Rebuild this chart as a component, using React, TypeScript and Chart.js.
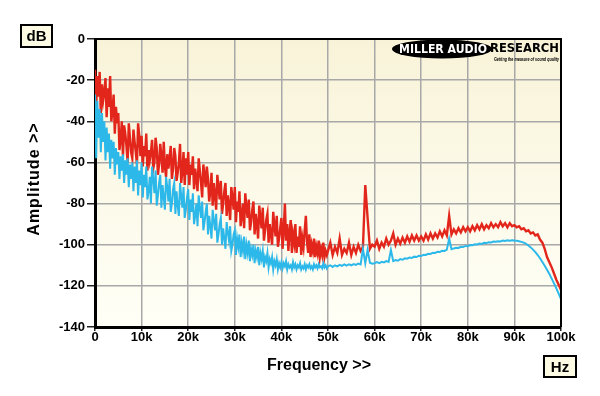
import React, { useEffect, useRef } from "react";
import { Chart, registerables } from "chart.js";

Chart.register(...registerables);

// ---------- Data (frequency in kHz, amplitude in dB) ----------
const xTickValues = [0, 10, 20, 30, 40, 50, 60, 70, 80, 90, 100];
const yTickValues = [0, -20, -40, -60, -80, -100, -120, -140];

// Red trace, 0.25 kHz bins from 0 to 50 kHz
const red0to10 = [-15, -33, -18, -28, -16, -36, -22, -30, -26, -19, -38, -24, -33, -18, -40, -35, -27, -46, -33, -41, -36, -54, -49, -40, -57, -42, -46, -52, -60, -41, -48, -55, -58, -44, -50, -55, -61, -41, -47, -57];
const red10to20 = [-47, -62, -52, -57, -46, -64, -54, -59, -55, -49, -63, -60, -48, -53, -66, -61, -51, -57, -65, -50, -62, -67, -56, -63, -58, -52, -68, -63, -53, -57, -69, -65, -60, -51, -70, -64, -55, -71, -58, -66];
const red20to30 = [-55, -71, -61, -66, -57, -73, -63, -68, -74, -58, -64, -70, -77, -61, -66, -72, -62, -68, -79, -74, -65, -81, -70, -76, -83, -66, -72, -78, -69, -85, -80, -74, -70, -86, -76, -81, -88, -72, -77, -83];
const red30to40 = [-72, -89, -79, -84, -74, -91, -86, -80, -92, -75, -82, -87, -78, -93, -89, -83, -79, -95, -85, -90, -97, -81, -87, -92, -82, -98, -93, -88, -85, -99, -90, -95, -100, -84, -91, -96, -86, -101, -97, -92];
const red40to50 = [-87, -102, -93, -80, -98, -90, -103, -94, -88, -104, -95, -99, -90, -104, -96, -101, -91, -105, -97, -101, -93, -86, -99, -104, -95, -106, -100, -103, -97, -106, -101, -104, -98, -106, -102, -105, -99, -106, -103, -105];
// Red trace, 0.5 kHz bins from 50 to 100 kHz
const red50to60 = [-103, -99, -105, -101, -104, -97, -105, -102, -104, -99, -105, -101, -104, -100, -103, -101, -71, -87, -102, -100];
const red60to70 = [-101, -98, -102, -99, -101, -97, -100, -98, -94.5, -100, -97, -99.5, -96.5, -99, -96, -98.5, -95.5, -98, -95.5, -98];
const red70to80 = [-96, -98, -95, -97.5, -94.5, -97, -94.5, -96.5, -93.5, -96, -93, -95.5, -86, -95, -92.5, -94.5, -92, -94, -91.5, -93.5];
const red80to90 = [-91.5, -93.5, -91, -93, -90.5, -92.5, -90, -92.5, -90.5, -92, -89.5, -91.5, -90, -91.5, -89, -91, -89.5, -91.5, -89.5, -91];
const red90to100 = [-90.5, -91.5, -91, -92.5, -92, -93.5, -93, -94.5, -94, -95.5, -95, -97.5, -99, -102, -106, -108.5, -111, -114, -117, -119.5, -122];

// Cyan trace, 0.25 kHz bins from 0 to 50 kHz
const cyan0to10 = [-27, -58, -30, -48, -34, -55, -36, -50, -40, -59, -43, -55, -46, -63, -49, -58, -50, -66, -53, -61, -55, -68, -57, -64, -56, -70, -59, -66, -58, -72, -61, -68, -60, -74, -62, -70, -59, -76, -64, -71];
const cyan10to20 = [-60, -77, -66, -72, -62, -78, -74, -67, -80, -62, -68, -75, -64, -81, -76, -70, -66, -82, -71, -77, -83, -67, -72, -79, -68, -84, -80, -73, -70, -85, -74, -81, -86, -70, -76, -82, -72, -87, -83, -77];
const cyan20to30 = [-73, -88, -78, -84, -75, -90, -86, -80, -91, -76, -82, -87, -79, -93, -89, -84, -80, -95, -86, -91, -97, -83, -88, -93, -85, -99, -95, -90, -87, -100, -92, -97, -102, -89, -94, -98, -91, -103, -100, -95];
const cyan30to40 = [-93, -105, -97, -101, -95, -106, -99, -103, -96, -107, -100, -104, -98, -108, -102, -105, -100, -109, -103, -106, -101, -110, -104, -107, -103, -111, -106, -108, -104, -111, -107, -109, -106, -112, -108, -110, -107, -112, -109, -111];
const cyan40to50 = [-108.5, -111.5, -109, -110.5, -108, -112, -109.5, -111, -110, -112, -108.5, -111, -109.5, -112, -110, -111, -109, -112, -110.5, -111.5, -109.5, -112, -110, -111, -109.5, -111.5, -110.5, -112, -109.5, -111, -110, -111.5, -109.5, -111, -110.5, -111.5, -109, -111, -110, -111.5];
// Cyan trace, 0.5 kHz bins from 50 to 100 kHz
const cyan50to60 = [-110.5, -110, -110.8, -110, -110.5, -109.8, -110.3, -109.6, -110.2, -109.5, -110, -109.4, -109.8, -109.2, -109.6, -102, -109, -102.5, -108.8, -109.2];
const cyan60to70 = [-109, -108.5, -109, -108.3, -108.6, -108, -108.4, -102.6, -108, -107.5, -107.8, -107, -107.3, -106.6, -106.8, -106.2, -106.4, -105.8, -106, -105.4];
const cyan70to80 = [-105.5, -104.9, -105, -104.4, -104.5, -103.9, -104, -103.4, -103.5, -102.9, -103, -102.4, -97, -102.2, -101.8, -101.5, -101.6, -101, -101.1, -100.6];
const cyan80to90 = [-100.7, -100.2, -100.3, -99.8, -99.9, -99.4, -99.6, -99.1, -99.2, -98.8, -98.9, -98.5, -98.6, -98.3, -98.4, -98, -98.2, -97.9, -98.1, -97.8];
const cyan90to100 = [-98, -98.1, -98.3, -98.6, -99, -99.6, -100.4, -101.3, -102.4, -103.6, -105, -106.6, -108.4, -110.2, -112.2, -114.2, -116.5, -118.8, -121.2, -123.8, -126.5];

type Seg = { start: number; step: number; values: number[] };

const redSegments: Seg[] = [
  { start: 0, step: 0.25, values: red0to10 },
  { start: 10, step: 0.25, values: red10to20 },
  { start: 20, step: 0.25, values: red20to30 },
  { start: 30, step: 0.25, values: red30to40 },
  { start: 40, step: 0.25, values: red40to50 },
  { start: 50, step: 0.5, values: red50to60 },
  { start: 60, step: 0.5, values: red60to70 },
  { start: 70, step: 0.5, values: red70to80 },
  { start: 80, step: 0.5, values: red80to90 },
  { start: 90, step: 0.5, values: red90to100 },
];
const cyanSegments: Seg[] = [
  { start: 0, step: 0.25, values: cyan0to10 },
  { start: 10, step: 0.25, values: cyan10to20 },
  { start: 20, step: 0.25, values: cyan20to30 },
  { start: 30, step: 0.25, values: cyan30to40 },
  { start: 40, step: 0.25, values: cyan40to50 },
  { start: 50, step: 0.5, values: cyan50to60 },
  { start: 60, step: 0.5, values: cyan60to70 },
  { start: 70, step: 0.5, values: cyan70to80 },
  { start: 80, step: 0.5, values: cyan80to90 },
  { start: 90, step: 0.5, values: cyan90to100 },
];

function buildPoints(segs: Seg[]) {
  const pts: { x: number; y: number }[] = [];
  segs.forEach((s) => s.values.forEach((v, i) => pts.push({ x: s.start + i * s.step, y: v })));
  return pts;
}

const FONT = '"Liberation Sans", Arial, Helvetica, sans-serif';
const HEAVY = '"DejaVu Sans", "Liberation Sans", Arial, sans-serif';

const backgroundPlugin = {
  id: "bgPlugin",
  beforeDraw(chart: any) {
    const { ctx, chartArea: a, width, height } = chart;
    ctx.save();
    ctx.fillStyle = "#ffffff";
    ctx.fillRect(0, 0, width, height);
    const g = ctx.createLinearGradient(0, a.top, 0, a.bottom);
    g.addColorStop(0, "#f8f3d8");
    g.addColorStop(1, "#fffff7");
    ctx.fillStyle = g;
    ctx.fillRect(a.left, a.top, a.right - a.left, a.bottom - a.top);
    ctx.restore();
  },
};

function labelBox(ctx: any, x: number, y: number, w: number, h: number, text: string) {
  ctx.fillStyle = "#fdfbe4";
  ctx.fillRect(x, y, w, h);
  ctx.strokeStyle = "#000";
  ctx.lineWidth = 2;
  ctx.strokeRect(x, y, w, h);
  ctx.fillStyle = "#000";
  ctx.font = `bold 15px ${FONT}`;
  ctx.textAlign = "center";
  ctx.textBaseline = "middle";
  ctx.fillText(text, x + w / 2, y + h / 2 + 1);
}

const overlayPlugin = {
  id: "overlayPlugin",
  afterDraw(chart: any) {
    const { ctx, chartArea: a } = chart;
    ctx.save();
    // frame top/right
    ctx.strokeStyle = "#000";
    ctx.lineWidth = 2;
    ctx.beginPath();
    ctx.moveTo(a.left, a.top);
    ctx.lineTo(a.right, a.top);
    ctx.lineTo(a.right, a.bottom);
    ctx.stroke();

    // unit boxes
    labelBox(ctx, 21, 25, 31, 22, "dB");
    labelBox(ctx, 544, 356, 32, 21, "Hz");

    // axis titles
    ctx.fillStyle = "#000";
    ctx.font = `bold 16px ${FONT}`;
    ctx.textAlign = "center";
    ctx.textBaseline = "middle";
    ctx.fillText("Frequency >>", 319, 366);
    ctx.save();
    ctx.translate(35, 179);
    ctx.rotate(-Math.PI / 2);
    (ctx as any).letterSpacing = "1px";
    ctx.fillText("Amplitude >>", 0, 0);
    (ctx as any).letterSpacing = "0px";
    ctx.restore();

    // logo
    ctx.fillStyle = "#000";
    ctx.beginPath();
    ctx.ellipse(442, 49, 50, 9.5, 0, 0, Math.PI * 2);
    ctx.fill();
    ctx.fillStyle = "#fff";
    ctx.font = `bold 12px ${HEAVY}`;
    ctx.textAlign = "center";
    ctx.textBaseline = "middle";
    ctx.fillText("MILLER AUDIO", 443, 49.5, 88);
    ctx.fillStyle = "#000";
    ctx.textAlign = "left";
    ctx.font = `bold 13px ${HEAVY}`;
    ctx.fillText("RESEARCH", 490, 48.5, 69);
    ctx.font = `italic bold 6px ${FONT}`;
    ctx.fillText("Getting the measure of sound quality", 494, 59, 65);
    ctx.restore();
  },
};

export default function App() {
  const canvasRef = useRef<HTMLCanvasElement | null>(null);

  useEffect(() => {
    document.body.style.margin = "0";
    const canvas = canvasRef.current;
    if (!canvas) return;
    const chart = new Chart(canvas, {
      type: "line",
      data: {
        datasets: [
          {
            label: "Cyan",
            data: buildPoints(cyanSegments),
            borderColor: "#2db8ea",
            borderWidth: 2,
            pointRadius: 0,
            tension: 0,
            fill: false,
            order: 0,
          },
          {
            label: "Red",
            data: buildPoints(redSegments),
            borderColor: "#e3261b",
            borderWidth: 2.4,
            pointRadius: 0,
            tension: 0,
            fill: false,
            order: 1,
          },
        ],
      },
      options: {
        responsive: false,
        animation: false,
        devicePixelRatio: 1,
        layout: { padding: { left: 0, right: 39, top: 39, bottom: 0 } },
        plugins: {
          legend: { display: false },
          tooltip: { enabled: false },
          title: { display: false },
        },
        scales: {
          x: {
            type: "linear",
            min: 0,
            max: 100,
            afterFit: (s: any) => {
              s.height = 69;
            },
            afterBuildTicks: (s: any) => {
              s.ticks = xTickValues.map((v) => ({ value: v }));
            },
            ticks: {
              color: "#000",
              font: { family: FONT, size: 13, weight: "bold" },
              padding: -1,
              maxRotation: 0,
              autoSkip: false,
              callback: (v: any) => (Number(v) === 0 ? "0" : `${v}k`),
            },
            grid: {
              color: "#a8a8a8",
              lineWidth: 1.5,
              tickColor: "#222",
              tickLength: 4,
            },
            border: { display: true, color: "#000", width: 3 },
          },
          y: {
            type: "linear",
            min: -140,
            max: 0,
            afterFit: (s: any) => {
              s.width = 95;
            },
            afterBuildTicks: (s: any) => {
              s.ticks = yTickValues.map((v) => ({ value: v }));
            },
            ticks: {
              color: "#000",
              font: { family: FONT, size: 13, weight: "bold" },
              padding: 2,
              autoSkip: false,
              callback: (v: any) => `${v}`,
            },
            grid: {
              color: "#a8a8a8",
              lineWidth: 1.5,
              tickColor: "#222",
              tickLength: 8,
            },
            border: { display: true, color: "#000", width: 3 },
          },
        },
      },
      plugins: [backgroundPlugin, overlayPlugin],
    } as any);
    return () => chart.destroy();
  }, []);

  return (
    <div style={{ position: "absolute", left: 0, top: 0, width: 600, height: 396, background: "#fff" }}>
      <canvas ref={canvasRef} width={600} height={396} style={{ width: 600, height: 396, display: "block" }} />
    </div>
  );
}
